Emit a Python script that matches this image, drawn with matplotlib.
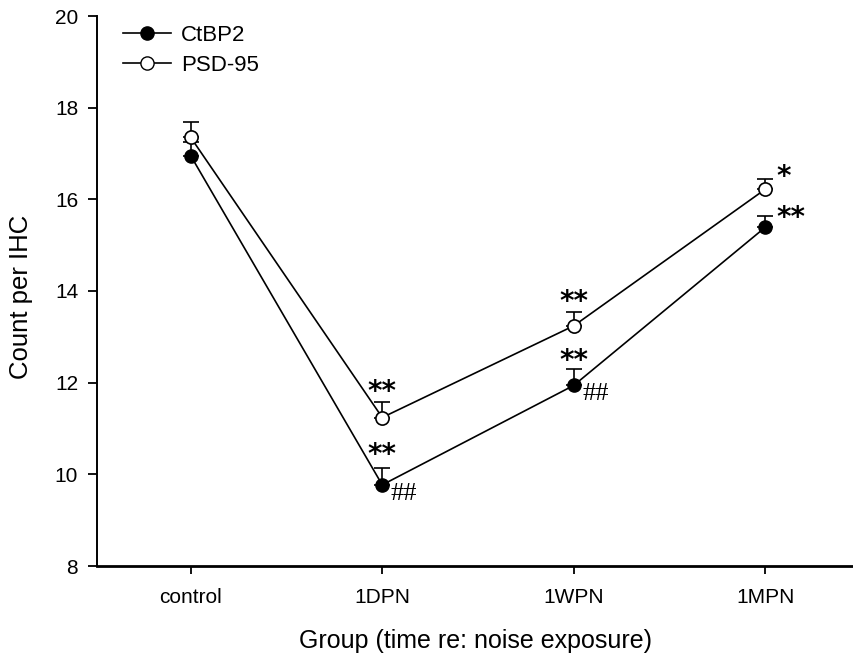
import matplotlib
matplotlib.use("Agg")
import matplotlib.pyplot as plt
from matplotlib.lines import Line2D

plt.rcParams['font.family'] = ['Liberation Sans', 'DejaVu Sans']

groups = ["control", "1DPN", "1WPN", "1MPN"]
ctbp2 = [16.95, 9.77, 11.94, 15.39]
ctbp2_se = [0.30, 0.36, 0.35, 0.25]
psd95 = [17.35, 11.24, 13.24, 16.22]
psd95_se = [0.33, 0.33, 0.30, 0.22]

ctbp2_stars = ["", "**", "**", "**"]
psd95_stars = ["", "**", "**", "*"]
ctbp2_hash = ["", "##", "##", ""]

fig = plt.figure(figsize=(8.54, 6.58), dpi=100)
ax = fig.add_axes([97/854, 92/658, 1 - 97/854, 550/658])

x = list(range(1, len(groups) + 1))

ax.errorbar(x, ctbp2, yerr=[[0]*4, ctbp2_se], color='black', lw=1.2,
            marker='o', ms=9.5, mfc='black', mec='black', capsize=5.5,
            elinewidth=1.2, capthick=1.2, zorder=3, clip_on=False)
ax.errorbar(x, psd95, yerr=[[0]*4, psd95_se], color='black', lw=1.2,
            marker='o', ms=9.5, mfc='white', mec='black', mew=1.2, capsize=5.5,
            elinewidth=1.2, capthick=1.2, zorder=4, clip_on=False)

for i, s in enumerate(psd95_stars):
    if not s:
        continue
    top = psd95[i] + psd95_se[i]
    dx = 18 if len(s) == 1 else 0
    dy = 2 if len(s) == 1 else 10
    ax.annotate(s, xy=(x[i], top), xytext=(dx, dy), textcoords='offset pixels',
                ha='center', va='center', fontsize=20, fontweight='bold',
                family='DejaVu Sans')
for i, s in enumerate(ctbp2_stars):
    if not s:
        continue
    top = ctbp2[i] + ctbp2_se[i]
    dx = 26 if i == 3 else 0
    dy = -2 if i == 3 else (13 if i == 1 else 8)
    ax.annotate(s, xy=(x[i], top), xytext=(dx, dy), textcoords='offset pixels',
                ha='center', va='center', fontsize=20, fontweight='bold',
                family='DejaVu Sans')
for i, s in enumerate(ctbp2_hash):
    if not s:
        continue
    ax.annotate(s, xy=(x[i], ctbp2[i]), xytext=(22, -9), textcoords='offset pixels',
                ha='center', va='center', fontsize=19, family='Liberation Serif')

ax.set_xlim(1 - 94/192, 4 + 89/192)
ax.set_ylim(8, 20)
ax.set_yticks([8, 10, 12, 14, 16, 18, 20])
ax.set_xticks(x)
ax.set_xticklabels(groups)
ax.tick_params(axis='y', labelsize=15, direction='out', length=6.5, width=1.3, pad=7)
ax.tick_params(axis='x', labelsize=15, direction='out', length=5.5, width=1.3, pad=10)
for sp in ['top', 'right']:
    ax.spines[sp].set_visible(False)
ax.spines['left'].set_linewidth(1.4)
ax.spines['bottom'].set_linewidth(2)

ax.set_xlabel("Group (time re: noise exposure)", fontsize=18)
ax.xaxis.set_label_coords(0.5, -0.115)
ax.set_ylabel("Count per IHC", fontsize=18.5)
ax.yaxis.set_label_coords(-0.084, 0.49)

handles = [
    Line2D([], [], color='black', lw=1.2, marker='o', ms=9.5, mfc='black', mec='black'),
    Line2D([], [], color='black', lw=1.2, marker='o', ms=9.5, mfc='white', mec='black'),
]
ax.legend(handles, ['CtBP2', 'PSD-95'], loc='upper left', bbox_to_anchor=(17/757, 1.0),
          frameon=False, fontsize=16, handlelength=2.15, handletextpad=0.45,
          labelspacing=0.4, borderaxespad=0)

fig.savefig("out.png", dpi=100)
